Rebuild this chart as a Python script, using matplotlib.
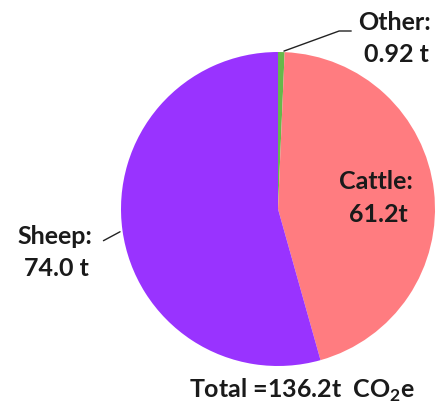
import numpy as np
import matplotlib.pyplot as plt

labels = ["Other", "Cattle", "Sheep"]
values = [0.92, 61.2, 74.0]
value_text = ["0.92 t", "61.2t", "74.0 t"]
colors = ["#66B84A", "#FF7C80", "#9933FF"]
total_text = "Total =136.2t  CO$_2$e"

W, H = 436, 409
fig = plt.figure(figsize=(W / 100, H / 100), dpi=100)
fig.patch.set_facecolor("white")

# pie centre (278, 209) px, radius 157 px
cx, cy, r = 278, 209, 157
ax = fig.add_axes([(cx - r) / W, (H - cy - r) / H, 2 * r / W, 2 * r / H])
wedges, _ = ax.pie(values, colors=colors, startangle=90, counterclock=False,
                   wedgeprops=dict(linewidth=0))
ax.set_xlim(-1, 1)
ax.set_ylim(-1, 1)
ax.axis("off")

font = dict(family="Lato", fontweight="bold", fontsize=18, color="#1a1a1a")
plt.rcParams["mathtext.fontset"] = "custom"
plt.rcParams["mathtext.rm"] = "Lato:bold"
plt.rcParams["mathtext.bf"] = "Lato:bold"

def px(x, y):
    return x / W, 1 - y / H

# wedge mid angles
mids = [(w.theta1 + w.theta2) / 2 for w in wedges]

# Other: outside, top right with leader
a = np.deg2rad(mids[0])
ax.annotate("", xy=(np.cos(a), np.sin(a)), xycoords="data",
            xytext=px(354, 31), textcoords="figure fraction",
            arrowprops=dict(arrowstyle="-", color="#222222", lw=1.0,
                            connectionstyle="angle,angleA=0,angleB=20,rad=0"))
fig.text(*px(394, 22), labels[0] + ":", ha="center", va="center", **font)
fig.text(*px(396, 55), value_text[0], ha="center", va="center", **font)

# Cattle: inside
fig.text(*px(376, 182), labels[1] + ":", ha="center", va="center", **font)
fig.text(*px(378, 214), value_text[1], ha="center", va="center", **font)

# Sheep: outside, left with leader
a = np.deg2rad(mids[2])
ax.annotate("", xy=(np.cos(a), np.sin(a)), xycoords="data",
            xytext=px(101, 242), textcoords="figure fraction",
            arrowprops=dict(arrowstyle="-", color="#222222", lw=1.0))
fig.text(*px(55, 236), labels[2] + ":", ha="center", va="center", **font)
fig.text(*px(56, 268), value_text[2], ha="center", va="center", **font)

fig.text(*px(302, 390), total_text, ha="center", va="center", **font)

fig.savefig("out.png", dpi=100, facecolor="white")
